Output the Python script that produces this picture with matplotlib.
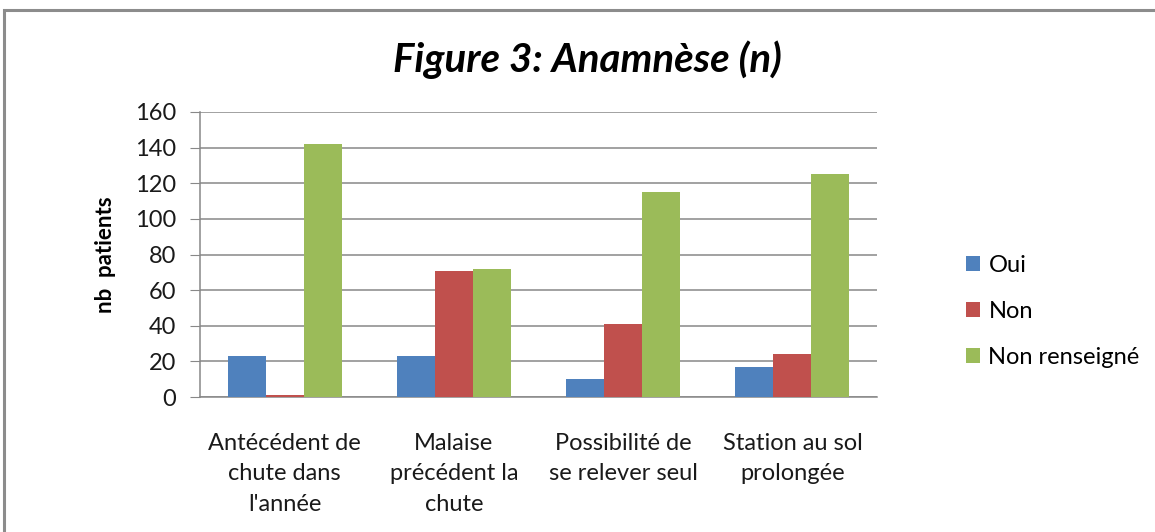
import matplotlib
matplotlib.use("Agg")
import matplotlib.pyplot as plt
import matplotlib.patches as patches
import numpy as np

plt.rcParams['font.family'] = ['Lato', 'DejaVu Sans']

categories = ["Antécédent de\nchute dans\nl'année",
              "Malaise\nprécédent la\nchute",
              "Possibilité de\nse relever seul",
              "Station au sol\nprolongée"]
series_names = ["Oui", "Non", "Non renseigné"]
oui = [23, 23, 10, 17]
non = [1, 71, 41, 24]
non_renseigne = [142, 72, 115, 125]
colors = ["#4F81BD", "#C0504D", "#9BBB59"]

fig = plt.figure(figsize=(11.55, 5.32), dpi=100)
ax = fig.add_axes([200/1155, 1 - 397/532, 677/1155, 285/532])

x = np.arange(len(categories))
w = 0.225
for i, (vals, name, c) in enumerate(zip([oui, non, non_renseigne], series_names, colors)):
    ax.bar(x + (i - 1) * w, vals, width=w, color=c, label=name, zorder=3)

ax.set_xlim(-0.5, 3.5)
ax.set_ylim(0, 160)
ax.set_yticks(range(0, 161, 20))
ax.set_xticks(x)
ax.set_xticklabels(categories, fontsize=17, color="#1a1a1a", linespacing=1.55)
ax.tick_params(axis='x', length=0, pad=26)
ax.tick_params(axis='y', labelsize=17, labelcolor="#1a1a1a", length=7,
               color="#888888", direction='out', pad=10)
ax.yaxis.grid(True, color="#888888", linewidth=1.1, zorder=0)
for s in ["top", "right"]:
    ax.spines[s].set_visible(False)
for s in ["left", "bottom"]:
    ax.spines[s].set_color("#888888")
    ax.spines[s].set_linewidth(1.1)

ax.set_ylabel("nb  patients", fontsize=16, fontweight='bold', labelpad=14)

fig.text(587/1155, 1 - 60/532, "Figure 3: Anamnèse (n)", fontsize=29,
         fontweight='bold', fontstyle='italic', ha='center', va='center')

leg = ax.legend(loc='center left', bbox_to_anchor=(1.1, 0.30), frameon=False,
                fontsize=17, handlelength=0.6, handleheight=0.6,
                handletextpad=0.35, labelspacing=1.05)

# outer chart border
fig.patches.append(patches.Rectangle((4/1155, -0.05), 1.2, 1 - 10/532 + 0.05,
                                     transform=fig.transFigure, fill=False,
                                     edgecolor="#8c8c8c", linewidth=2.2))

fig.savefig("out.png", dpi=100)
